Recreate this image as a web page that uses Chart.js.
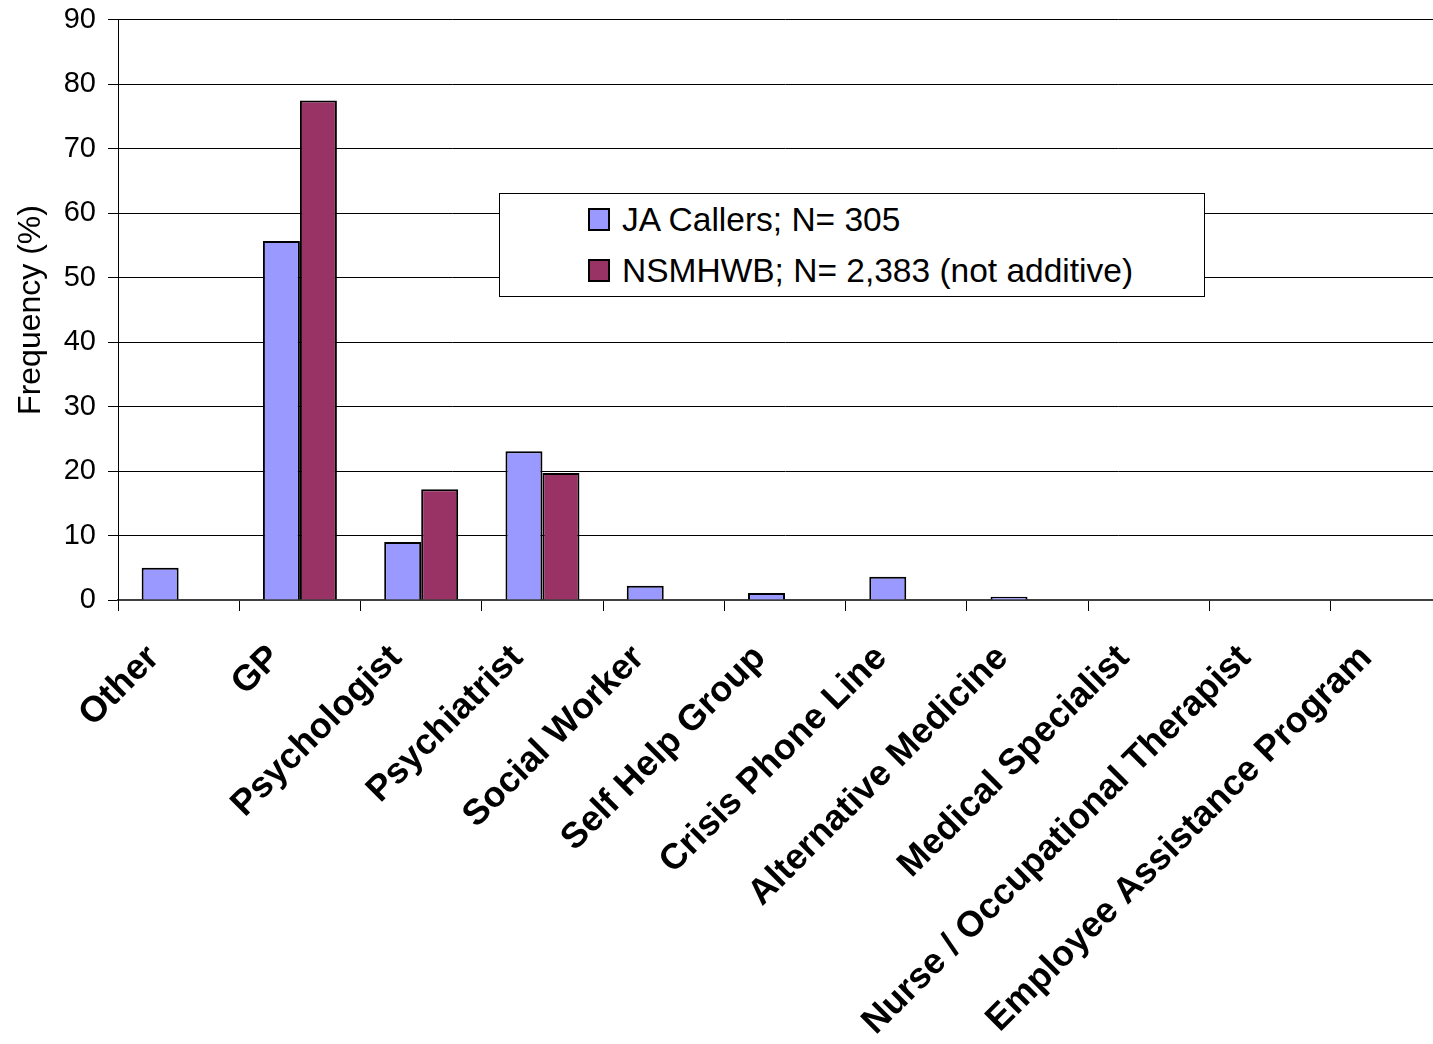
<!DOCTYPE html>
<html>
<head>
<meta charset="utf-8">
<script src="https://cdn.jsdelivr.net/npm/chart.js@4"></script>
<style>
  html, body { margin: 0; padding: 0; background: #fff; overflow: hidden; }
  #wrap { position: relative; width: 1452px; height: 1044px; }
  #legend {
    position: absolute; left: 499px; top: 193px; width: 706px; height: 104px;
    border: 1px solid #000; background: #fff; box-sizing: border-box;
    font-family: "Liberation Sans", Arial, sans-serif; font-size: 33.5px; color: #000;
    padding-top: 0;
  }
  #legend .item { display: flex; align-items: center; height: 51px; padding-left: 88px; }
  #legend .swatch { width: 18px; height: 19px; border: 2px solid #000; margin-right: 12px; }
</style>
</head>
<body>
<div id="wrap">
  <canvas id="helpChart" width="1452" height="1044"></canvas>
  <div id="legend"></div>
</div>
<script>
const categories = ['Other', 'GP', 'Psychologist', 'Psychiatrist', 'Social Worker', 'Self Help Group',
  'Crisis Phone Line', 'Alternative Medicine', 'Medical Specialist',
  'Nurse / Occupational Therapist', 'Employee Assistance Program'];
const jaCallers = [5.0, 55.7, 9.0, 23.1, 2.2, 1.1, 3.6, 0.5, 0, 0, 0];
const nsmhwb = [0, 77.5, 17.2, 19.7, 0, 0, 0, 0, 0, 0, 0];
const yTicks = [0, 10, 20, 30, 40, 50, 60, 70, 80, 90];

const font = "'Liberation Sans', Arial, sans-serif";

const ctx = document.getElementById('helpChart');
const helpChart = new Chart(ctx, {
    type: 'bar',
    data: {
        labels: categories,
        datasets: [{
            label: 'JA Callers; N= 305',
            data: jaCallers,
            backgroundColor: '#9999FF',
            borderColor: '#000',
            borderWidth: 2
        }, {
            label: 'NSMHWB; N= 2,383 (not additive)',
            data: nsmhwb,
            backgroundColor: '#993366',
            borderColor: '#000',
            borderWidth: 2
        }]
    },
    options: {
        responsive: false,
        animation: false,
        categoryPercentage: 0.61,
        barPercentage: 1,
        layout: {
            padding: { top: 0, left: 0, right: 0, bottom: 0 }
        },
        plugins: {
            legend: { display: false },
            tooltip: { enabled: false }
        },
        scales: {
            x: {
                grid: {
                    offset: true,
                    drawOnChartArea: false,
                    color: '#000',
                    tickLength: 11
                },
                border: { color: '#404040', width: 2 },
                ticks: {
                    minRotation: 45,
                    maxRotation: 45,
                    padding: 26,
                    labelOffset: -25,
                    color: '#000',
                    font: { family: font, size: 36, weight: 'bold' }
                },
                afterFit: (scale) => { scale.height = 444; }
            },
            y: {
                min: 0,
                max: 90,
                afterBuildTicks: (scale) => { scale.ticks = yTicks.map(v => ({ value: v })); },
                grid: { color: '#000', lineWidth: 1, tickLength: 10 },
                border: { color: '#000', width: 1 },
                ticks: {
                    padding: 12,
                    color: '#000',
                    // small lineHeight keeps the top of the plot close to the canvas edge
                    font: { family: font, size: 29, lineHeight: 0.55 }
                },
                title: {
                    display: true,
                    text: 'Frequency (%)',
                    color: '#000',
                    padding: { top: 12, bottom: 0 },
                    font: { family: font, size: 32 }
                },
                afterFit: (scale) => { scale.width = 118; }
            }
        }
    }
});

// legend box drawn inside the plot, built from the datasets
const legendEl = document.getElementById('legend');
helpChart.data.datasets.forEach(ds => {
    const item = document.createElement('div');
    item.className = 'item';
    const sw = document.createElement('span');
    sw.className = 'swatch';
    sw.style.background = ds.backgroundColor;
    const txt = document.createElement('span');
    txt.textContent = ds.label;
    item.appendChild(sw);
    item.appendChild(txt);
    legendEl.appendChild(item);
});
</script>
</body>
</html>
